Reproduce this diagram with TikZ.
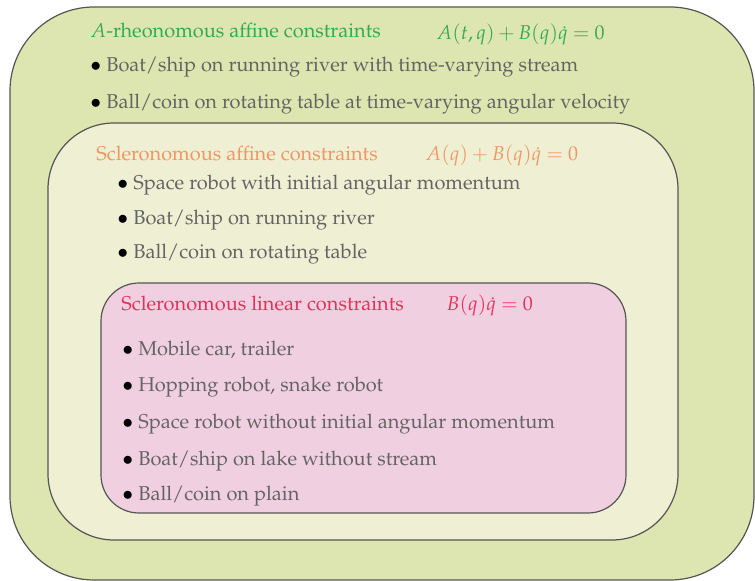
\documentclass[tikz,border=0pt]{standalone}
\usepackage[T1]{fontenc}
\usepackage{mathpazo}
\usepackage{amsmath}
\usepackage{tikz}

\definecolor{outerfill}{RGB}{221,230,176}
\definecolor{midfill}{RGB}{239,240,211}
\definecolor{innerfill}{RGB}{240,208,224}
\definecolor{boxline}{RGB}{85,85,85}
\definecolor{rheogreen}{RGB}{52,172,78}
\definecolor{affineorange}{RGB}{240,150,100}
\definecolor{linearred}{RGB}{228,48,90}
\definecolor{itemgrey}{RGB}{100,100,100}

\newcommand{\itm}[1]{\textcolor{black}{$\bullet$} #1}
\newcommand{\eqn}[1]{$\medmuskip=3mu\thickmuskip=4.5mu #1$}

\begin{document}
\begin{tikzpicture}[x=0.5pt, y=-0.5pt,
    box/.style={draw=boxline, line width=0.6pt},
    title/.style={anchor=base west, inner sep=0pt},
    item/.style={anchor=base west, inner sep=0pt, text=itemgrey},
    ]
  \useasboundingbox (0,0) rectangle (755,581);

  % the three nested classes
  \draw[box, fill=outerfill, rounded corners=42pt] (10,7) rectangle (754,580);
  \draw[box, fill=midfill, rounded corners=33pt] (48,123) rectangle (678,540);
  \draw[box, fill=innerfill, rounded corners=19pt] (101,283) rectangle (626,513);

  % A-rheonomous
  \node[title, text=rheogreen] (rheo) at (90,38) {$A$-rheonomous affine constraints};
  \node[title, text=rheogreen] (rheoeq) at (436,40) {\eqn{A(t,q)+B(q)\dot{q}=0}};
  \node[item] (r1) at (90,72) {\itm{Boat/ship on running river with time-varying stream}};
  \node[item] (r2) at (90,109) {\itm{Ball/coin on rotating table at time-varying angular velocity}};

  % scleronomous affine
  \node[title, text=affineorange] (aff) at (96,161) {Scleronomous affine constraints};
  \node[title, text=affineorange] (affeq) at (425,161) {\eqn{A(q)+B(q)\dot{q}=0}};
  \node[item] (a1) at (117,190) {\itm{Space robot with initial angular momentum}};
  \node[item] (a2) at (117,225) {\itm{Boat/ship on running river}};
  \node[item] (a3) at (117,259) {\itm{Ball/coin on rotating table}};

  % scleronomous linear
  \node[title, text=linearred] (lin) at (121,311) {Scleronomous linear constraints};
  \node[title, text=linearred] (lineq) at (446,311) {\eqn{B(q)\dot{q}=0}};
  \node[item] (l1) at (122,356) {\itm{Mobile car, trailer}};
  \node[item] (l2) at (122,392) {\itm{Hopping robot, snake robot}};
  \node[item] (l3) at (122,429) {\itm{Space robot without initial angular momentum}};
  \node[item] (l4) at (122,466) {\itm{Boat/ship on lake without stream}};
  \node[item] (l5) at (122,501) {\itm{Ball/coin on plain}};
\end{tikzpicture}
\end{document}
